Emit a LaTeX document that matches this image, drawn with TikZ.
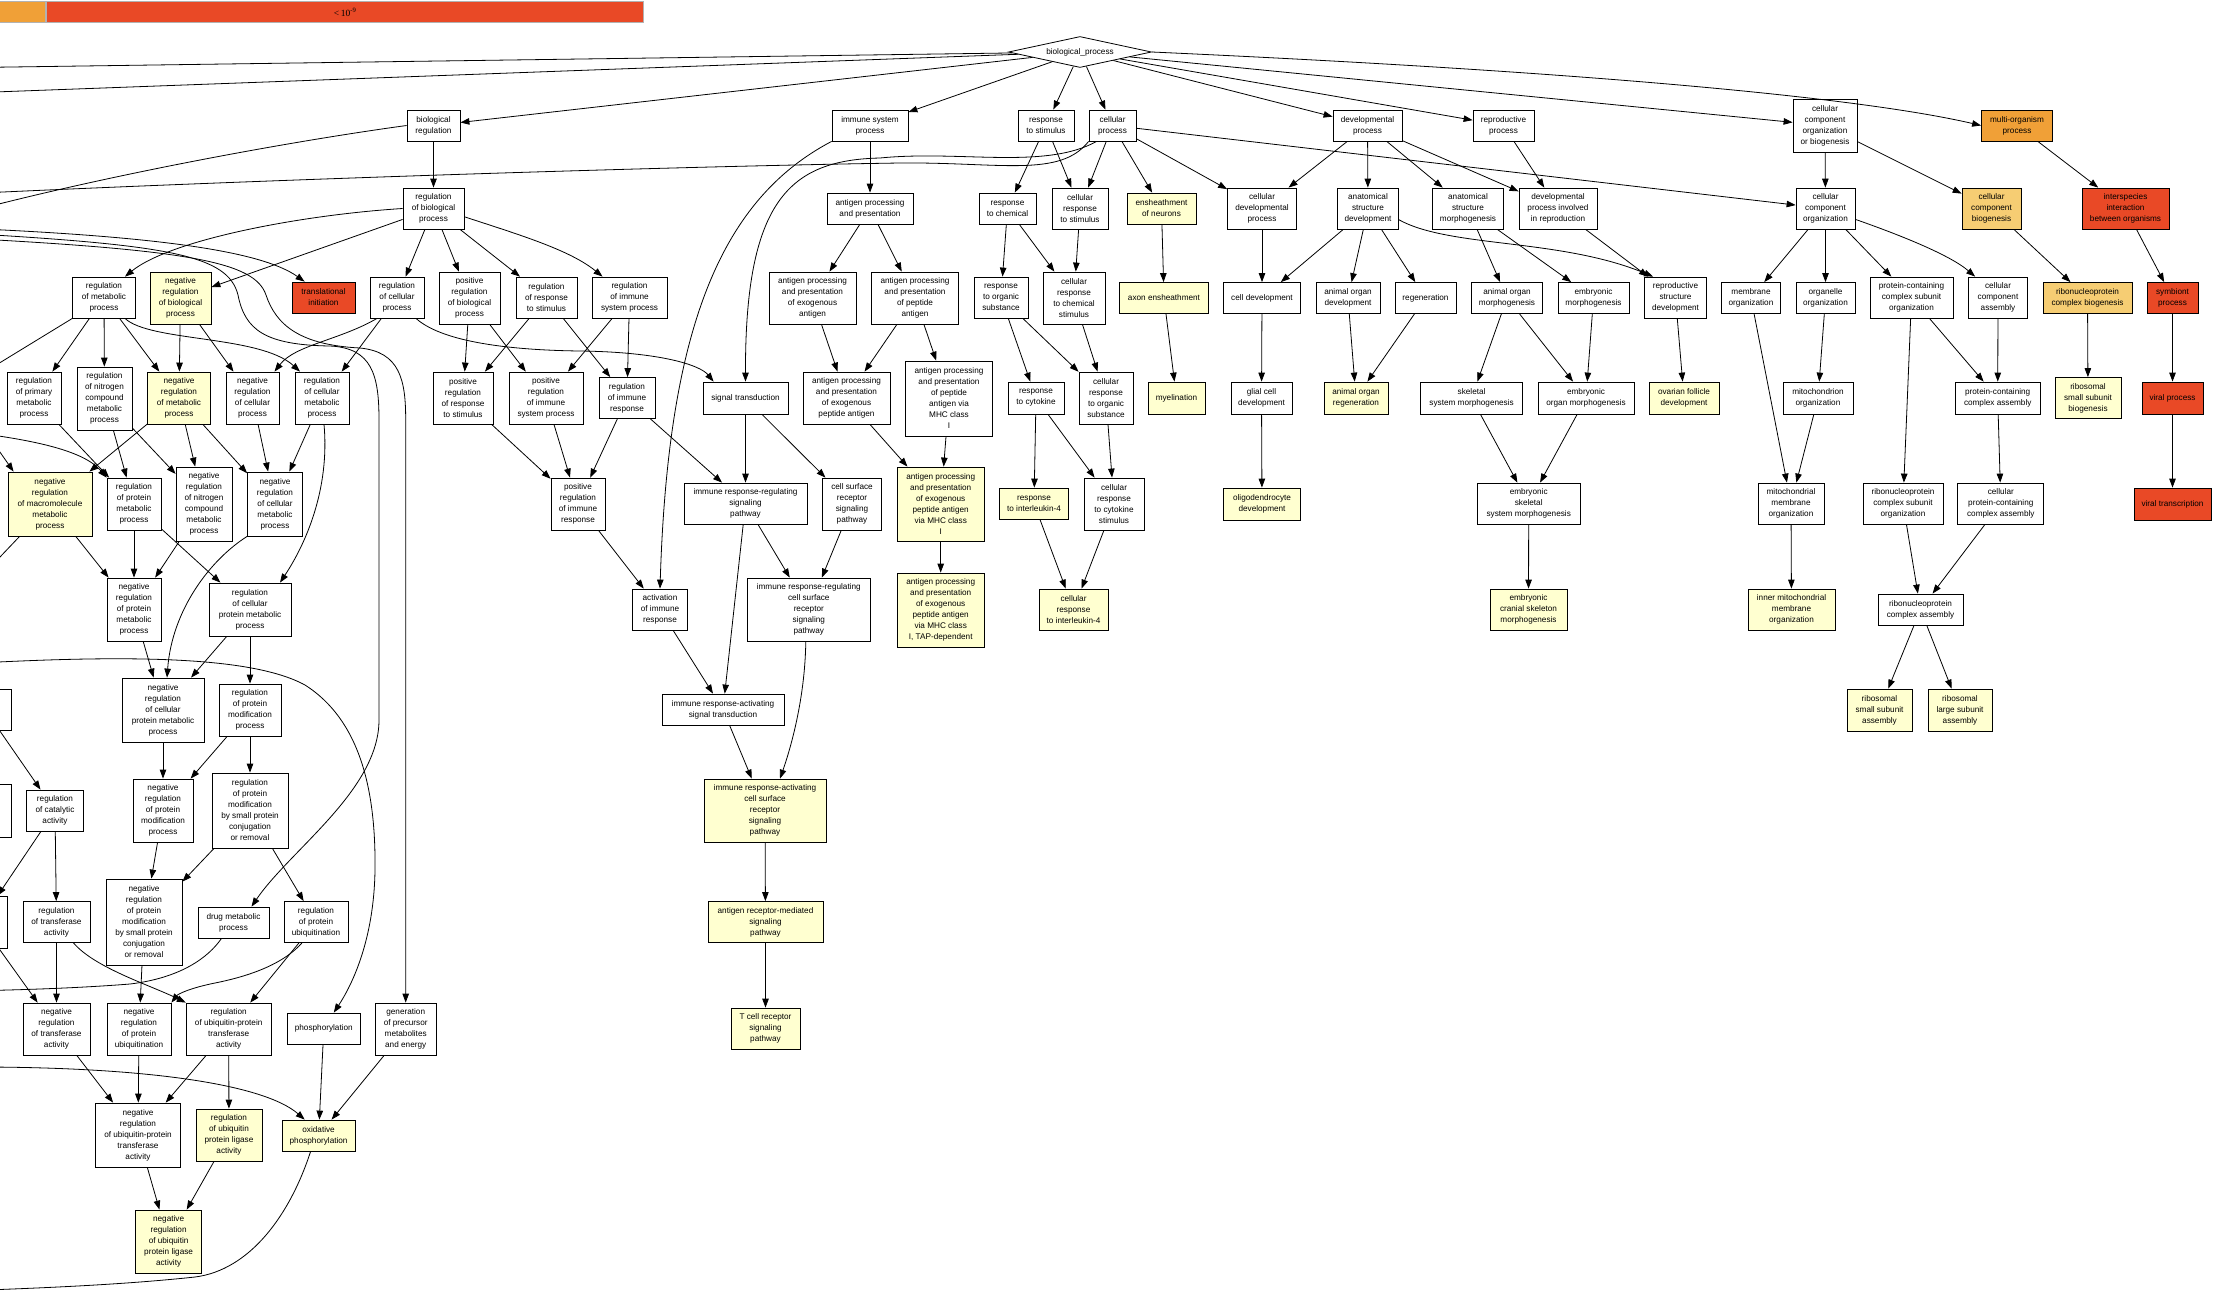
\documentclass[tikz,border=0pt]{standalone}
\usepackage{fontspec}
\setmainfont{Liberation Sans}
\newfontfamily\legserif{Liberation Serif}
\usetikzlibrary{arrows.meta,shapes.geometric,calc}
\definecolor{gored}{RGB}{233,73,38}
\definecolor{gorange}{RGB}{240,160,55}
\definecolor{glorange}{RGB}{246,205,115}
\definecolor{gyellow}{RGB}{255,255,208}
\begin{document}
\begin{tikzpicture}[x=1pt,y=-1pt,
  bx/.style={draw=black, line width=0.8pt, fill=white, inner sep=0pt, align=center, font=\fontsize{8.2}{11}\selectfont},
  wh/.style 2 args={minimum width=#1pt, minimum height=#2pt},
  fy/.style={fill=gyellow}, fr/.style={fill=gored}, fo/.style={fill=gorange}, fl/.style={fill=glorange},
  edg/.style={-{Triangle[length=9pt,width=6.5pt]}, line width=0.8pt},
  legbox/.style={draw=gray!60, line width=1.2pt, inner sep=0pt, anchor=north west}
]
\useasboundingbox (0,0) rectangle (2214,1302);
\clip (0,0) rectangle (2214,1302);
\fill[white] (0,0) rectangle (2214,1302);

% legend
\node[legbox, fill=gorange, minimum width=47pt, minimum height=21pt] (legA) at (-2,1) {};
\node[legbox, fill=gored, minimum width=597pt, minimum height=21pt, font=\legserif\fontsize{9.5}{10}\selectfont] (legB) at (46,1) {<\,10\textsuperscript{-9}};

% off-canvas ends
\coordinate (offA) at (-60,68);
\coordinate (offB) at (-60,94);
\coordinate (offC) at (-40,214);
\coordinate (offD) at (-40,194);
\coordinate (offE) at (-40,228);
\coordinate (offF) at (-40,233);
\coordinate (offG) at (-40,238);
\coordinate (offH) at (-40,664);
\coordinate (offI) at (-40,431);
\coordinate (offJ) at (-28,412);
\coordinate (offK) at (-20,578);
\coordinate (offL) at (-30,381);
\coordinate (offM) at (-40,991);
\coordinate (offN) at (-40,1067);
\coordinate (offO) at (-40,1291);

% root
\node[draw=black, line width=0.8pt, fill=white, diamond, shape aspect=4.6, minimum width=143pt, minimum height=31pt, inner sep=0pt, font=\fontsize{8.2}{11}\selectfont] (bp) at (1080,52) {biological\_process};

% row 1
\node[bx,wh={53}{31}] (bioreg) at (433.5,125.5) {biological\\regulation};
\node[bx,wh={76}{31}] (isp) at (870,125.5) {immune system\\process};
\node[bx,wh={56}{31}] (rts) at (1046,125.5) {response\\to stimulus};
\node[bx,wh={47}{31}] (cp) at (1112.5,125.5) {cellular\\process};
\node[bx,wh={69}{31}] (dp) at (1367.5,125.5) {developmental\\process};
\node[bx,wh={61}{31}] (rp) at (1503.5,125.5) {reproductive\\process};
\node[bx,wh={64}{53}] (ccob) at (1825,125.5) {cellular\\component\\organization\\or biogenesis};
\node[bx,fo,wh={71}{31}] (mop) at (2017,125.5) {multi-organism\\process};

% row 2
\node[bx,wh={61}{41}] (rbp) at (433.5,208.5) {regulation\\of biological\\process};
\node[bx,wh={86}{31}] (app) at (870,208.5) {antigen processing\\and presentation};
\node[bx,wh={57}{31}] (rchem) at (1007.5,208.5) {response\\to chemical};
\node[bx,wh={56}{41}] (crs) at (1080,208.5) {cellular\\response\\to stimulus};
\node[bx,fy,wh={69}{31}] (ens) at (1161.5,208.5) {ensheathment\\of neurons};
\node[bx,wh={69}{41}] (cdp) at (1262,208.5) {cellular\\developmental\\process};
\node[bx,wh={61}{41}] (asd) at (1368,208.5) {anatomical\\structure\\development};
\node[bx,wh={71}{41}] (asm) at (1468,208.5) {anatomical\\structure\\morphogenesis};
\node[bx,wh={78}{41}] (dpr) at (1558,208.5) {developmental\\process involved\\in reproduction};
\node[bx,wh={59}{41}] (cco) at (1825.5,208.5) {cellular\\component\\organization};
\node[bx,fl,wh={59}{41}] (ccb) at (1991.5,208.5) {cellular\\component\\biogenesis};
\node[bx,fr,wh={87}{41}] (iibo) at (2125.5,208.5) {interspecies\\interaction\\between organisms};

% row 3
\node[bx,wh={62.5}{41}] (rmp) at (104,297.5) {regulation\\of metabolic\\process};
\node[bx,fy,wh={61}{52}] (nrbp) at (180.5,298) {negative\\regulation\\of biological\\process};
\node[bx,fr,wh={63}{31}] (ti) at (323.5,297.5) {translational\\initiation};
\node[bx,wh={54}{41}] (rcp) at (397,297.5) {regulation\\of cellular\\process};
\node[bx,wh={61}{52}] (prbp) at (469.5,298) {positive\\regulation\\of biological\\process};
\node[bx,wh={61}{41}] (rrs) at (546.5,297.5) {regulation\\of response\\to stimulus};
\node[bx,wh={75}{41}] (risp) at (629.5,297.5) {regulation\\of immune\\system process};
\node[bx,wh={87}{52}] (appea) at (812.5,298) {antigen processing\\and presentation\\of exogenous\\antigen};
\node[bx,wh={87}{52}] (apppa) at (915,298) {antigen processing\\and presentation\\of peptide\\antigen};
\node[bx,wh={54}{41}] (ros) at (1001,297.5) {response\\to organic\\substance};
\node[bx,wh={62}{52}] (crcs) at (1074,298) {cellular\\response\\to chemical\\stimulus};
\node[bx,fy,wh={89}{31}] (ae) at (1164,298) {axon ensheathment};
\node[bx,wh={77}{31}] (cd) at (1262,298) {cell development};
\node[bx,wh={64}{31}] (aod) at (1348,298) {animal organ\\development};
\node[bx,wh={61}{31}] (regen) at (1425.5,298) {regeneration};
\node[bx,wh={71}{31}] (aom) at (1507,298) {animal organ\\morphogenesis};
\node[bx,wh={71}{31}] (em) at (1593.5,298) {embryonic\\morphogenesis};
\node[bx,wh={62}{41}] (rsd) at (1675.5,297.5) {reproductive\\structure\\development};
\node[bx,wh={59}{31}] (mo) at (1751,298) {membrane\\organization};
\node[bx,wh={59}{31}] (oo) at (1825.5,298) {organelle\\organization};
\node[bx,wh={83}{41}] (pccso) at (1911.5,297.5) {protein-containing\\complex subunit\\organization};
\node[bx,wh={59}{41}] (cca) at (1998,297.5) {cellular\\component\\assembly};
\node[bx,fl,wh={89}{31}] (rnpcb) at (2087.5,298) {ribonucleoprotein\\complex biogenesis};
\node[bx,fr,wh={51}{31}] (symp) at (2172.5,298) {symbiont\\process};

% row 4
\node[bx,wh={54}{52}] (rpmp) at (34,398) {regulation\\of primary\\metabolic\\process};
\node[bx,wh={55}{63}] (rncmp) at (104.5,398.5) {regulation\\of nitrogen\\compound\\metabolic\\process};
\node[bx,fy,wh={63}{52}] (nrmp) at (179,398) {negative\\regulation\\of metabolic\\process};
\node[bx,wh={53}{52}] (nrcp) at (252.5,398) {negative\\regulation\\of cellular\\process};
\node[bx,wh={54}{52}] (rcmp) at (322,398) {regulation\\of cellular\\metabolic\\process};
\node[bx,wh={60}{52}] (prrs) at (463,398) {positive\\regulation\\of response\\to stimulus};
\node[bx,wh={74}{52}] (prisp) at (546,398) {positive\\regulation\\of immune\\system process};
\node[bx,wh={56}{41}] (rir) at (627,398) {regulation\\of immune\\response};
\node[bx,wh={85}{32}] (st) at (745.5,398) {signal transduction};
\node[bx,wh={87}{52}] (appepa) at (846.5,398) {antigen processing\\and presentation\\of exogenous\\peptide antigen};
\node[bx,wh={87}{75}] (appmhc) at (949,398.5) {antigen processing\\and presentation\\of peptide\\antigen via\\MHC class\\I};
\node[bx,wh={56}{32}] (rcyt) at (1036,398) {response\\to cytokine};
\node[bx,wh={54}{52}] (cros) at (1106,398) {cellular\\response\\to organic\\substance};
\node[bx,fy,wh={57}{32}] (myel) at (1176.5,398) {myelination};
\node[bx,wh={61}{32}] (gcd) at (1261.5,398) {glial cell\\development};
\node[bx,fy,wh={64}{32}] (aor) at (1356,398) {animal organ\\regeneration};
\node[bx,wh={102}{32}] (ssm) at (1471.6,398) {skeletal\\system morphogenesis};
\node[bx,wh={96}{32}] (eom) at (1586,398) {embryonic\\organ morphogenesis};
\node[bx,fy,wh={70}{32}] (ofd) at (1684,398) {ovarian follicle\\development};
\node[bx,wh={70}{32}] (mito) at (1818,398) {mitochondrion\\organization};
\node[bx,wh={85}{32}] (pcca) at (1997.7,398) {protein-containing\\complex assembly};
\node[bx,fy,wh={66}{41}] (rssb) at (2088,398) {ribosomal\\small subunit\\biogenesis};
\node[bx,fr,wh={61}{32}] (vp) at (2172.5,398) {viral process};

% row 5
\node[bx,fy,wh={84}{64}] (nrmmp) at (50,504) {negative\\regulation\\of macromolecule\\metabolic\\process};
\node[bx,wh={54}{52}] (rprmp) at (134,504) {regulation\\of protein\\metabolic\\process};
\node[bx,wh={56}{74}] (nrncmp) at (204,504) {negative\\regulation\\of nitrogen\\compound\\metabolic\\process};
\node[bx,wh={55}{64}] (nrcmp) at (275,504) {negative\\regulation\\of cellular\\metabolic\\process};
\node[bx,wh={54}{52}] (prir) at (578,504) {positive\\regulation\\of immune\\response};
\node[bx,wh={123}{41}] (irrsp) at (745.5,503.5) {immune response-regulating\\signaling\\pathway};
\node[bx,wh={59}{52}] (csrsp) at (852,504) {cell surface\\receptor\\signaling\\pathway};
\node[bx,fy,wh={87}{74}] (appmhc1) at (940.7,504) {antigen processing\\and presentation\\of exogenous\\peptide antigen\\via MHC class\\I};
\node[bx,fy,wh={69}{31}] (ril4) at (1034,503.5) {response\\to interleukin-4};
\node[bx,wh={60}{52}] (crcyt) at (1114,504) {cellular\\response\\to cytokine\\stimulus};
\node[bx,fy,wh={77}{32}] (odd) at (1262,504) {oligodendrocyte\\development};
\node[bx,wh={103}{41}] (essm) at (1528.7,503.5) {embryonic\\skeletal\\system morphogenesis};
\node[bx,wh={66}{41}] (mmo) at (1791,503.5) {mitochondrial\\membrane\\organization};
\node[bx,wh={80}{41}] (rnpcso) at (1903,503.5) {ribonucleoprotein\\complex subunit\\organization};
\node[bx,wh={86}{41}] (cpcca) at (2000.8,503.5) {cellular\\protein-containing\\complex assembly};
\node[bx,fr,wh={77}{32}] (vt) at (2172.5,504) {viral transcription};

% row 6
\node[bx,wh={54}{63}] (nrpmp) at (134,609.5) {negative\\regulation\\of protein\\metabolic\\process};
\node[bx,wh={82}{53}] (rcpmp) at (250,609.5) {regulation\\of cellular\\protein metabolic\\process};
\node[bx,wh={55}{41}] (air) at (660,609.5) {activation\\of immune\\response};
\node[bx,wh={123}{63}] (irrcs) at (808.8,609.5) {immune response-regulating\\cell surface\\receptor\\signaling\\pathway};
\node[bx,fy,wh={87}{74}] (apptap) at (940.7,610) {antigen processing\\and presentation\\of exogenous\\peptide antigen\\via MHC class\\I, TAP-dependent};
\node[bx,fy,wh={69}{41}] (cril4) at (1073.5,609.5) {cellular\\response\\to interleukin-4};
\node[bx,fy,wh={77}{41}] (ecsm) at (1528.5,609.5) {embryonic\\cranial skeleton\\morphogenesis};
\node[bx,fy,wh={87}{41}] (immo) at (1791.5,609.5) {inner mitochondrial\\membrane\\organization};
\node[bx,wh={85}{31}] (rnpca) at (1920.5,609.5) {ribonucleoprotein\\complex assembly};

% row 7
\node[bx,wh={52}{41}] (cutA) at (-15,709.5) {};
\node[bx,wh={82}{64}] (nrcpmp) at (163,710) {negative\\regulation\\of cellular\\protein metabolic\\process};
\node[bx,wh={62}{52}] (rpmodp) at (250,710) {regulation\\of protein\\modification\\process};
\node[bx,wh={122}{31}] (irast) at (723,709.5) {immune response-activating\\signal transduction};
\node[bx,fy,wh={65}{42}] (rssa) at (1879.5,710) {ribosomal\\small subunit\\assembly};
\node[bx,fy,wh={64}{42}] (rlsa) at (1960,710) {ribosomal\\large subunit\\assembly};

% row 8
\node[bx,wh={52}{53}] (cutB) at (-15,810.5) {};
\node[bx,wh={57}{41}] (rca) at (55,810.5) {regulation\\of catalytic\\activity};
\node[bx,wh={60}{63}] (nrpmodp) at (163,810.5) {negative\\regulation\\of protein\\modification\\process};
\node[bx,wh={76}{75}] (rpmsp) at (250,810.5) {regulation\\of protein\\modification\\by small protein\\conjugation\\or removal};
\node[bx,fy,wh={122}{63}] (iracs) at (765,810.5) {immune response-activating\\cell surface\\receptor\\signaling\\pathway};

% row 9
\node[bx,wh={54}{52}] (cutC) at (-20,922) {};
\node[bx,wh={67}{41}] (rta) at (56.5,922) {regulation\\of transferase\\activity};
\node[bx,wh={76}{86}] (nrpmsp) at (144,922) {negative\\regulation\\of protein\\modification\\by small protein\\conjugation\\or removal};
\node[bx,wh={71}{31}] (dmp) at (233.5,922.5) {drug metabolic\\process};
\node[bx,wh={64}{41}] (rpu) at (316,922) {regulation\\of protein\\ubiquitination};
\node[bx,fy,wh={115}{41}] (armsp) at (765.5,922) {antigen receptor-mediated\\signaling\\pathway};

% row 10
\node[bx,wh={67}{52}] (nrta) at (56.5,1029) {negative\\regulation\\of transferase\\activity};
\node[bx,wh={64}{52}] (nrpu) at (139,1029) {negative\\regulation\\of protein\\ubiquitination};
\node[bx,wh={85}{52}] (rupta) at (228.7,1029) {regulation\\of ubiquitin-protein\\transferase\\activity};
\node[bx,wh={73}{31}] (phos) at (323.8,1028.5) {phosphorylation};
\node[bx,wh={61}{52}] (gpme) at (405.7,1029) {generation\\of precursor\\metabolites\\and energy};
\node[bx,fy,wh={69}{41}] (tcr) at (765.5,1028.5) {T cell receptor\\signaling\\pathway};

% row 11
\node[bx,wh={85}{64}] (nrupta) at (138,1135) {negative\\regulation\\of ubiquitin-protein\\transferase\\activity};
\node[bx,fy,wh={66}{52}] (rupla) at (229,1135) {regulation\\of ubiquitin\\protein ligase\\activity};
\node[bx,fy,wh={73}{31}] (oxp) at (318.6,1135.5) {oxidative\\phosphorylation};

% row 12
\node[bx,fy,wh={66}{63}] (nrupla) at (168.6,1241.5) {negative\\regulation\\of ubiquitin\\protein ligase\\activity};

% ---------- edges ----------
\draw[edg] (bp) -- (bioreg);
\draw[edg] (bp) -- (isp);
\draw[edg] (bp) -- (rts);
\draw[edg] (bp) -- (cp);
\draw[edg] (bp) -- (dp);
\draw[edg] (bp) -- (rp);
\draw[edg] (bp) -- (ccob);
\draw[edg] (bp.east) .. controls (1550,70) and (1850,95) .. (mop.west);
\draw[edg] (bp) -- (offA);
\draw[edg] (bp) -- (offB);

\draw[edg] (bioreg) -- (rbp);
\draw[edg] (bioreg.west) .. controls (300,140) and (120,172) .. (offC);

\draw[edg] (cp.south west) .. controls (1060,178) and (1000,162) .. (900,163) .. controls (700,166) and (300,178) .. (offD);
\draw[edg] (cp.225) .. controls (1045,170) and (960,150) .. (880,158) .. controls (790,160) and (745,200) .. (st.north);
\draw[edg] (cp) -- (crs);
\draw[edg] (cp) -- (ens);
\draw[edg] (cp) -- (cdp);
\draw[edg] (cp) -- (cco);
\draw[edg] (rts) -- (rchem);
\draw[edg] (rts) -- (crs);
\draw[edg] (isp) -- (app);
\draw[edg] (isp.south west) .. controls (720,200) and (668,330) .. (air.north);
\draw[edg] (dp) -- (cdp);
\draw[edg] (dp) -- (asd);
\draw[edg] (dp) -- (asm);
\draw[edg] (dp) -- (dpr);
\draw[edg] (rp) -- (dpr);
\draw[edg] (ccob) -- (cco);
\draw[edg] (ccob) -- (ccb);
\draw[edg] (mop) -- (iibo);

\draw[edg] (rbp.west) .. controls (300,215) and (170,240) .. ($(rmp.north)+(21,0)$);
\draw[edg] (rbp) -- (nrbp);
\draw[edg] (rbp) -- (rcp);
\draw[edg] (rbp) -- (prbp);
\draw[edg] (rbp) -- (rrs);
\draw[edg] (rbp.-15) .. controls (520,235) and (570,250) .. ($(risp.north)+(-27,0)$);
\draw[edg] (app) -- (appea);
\draw[edg] (app) -- (apppa);
\draw[edg] (rchem) -- (ros);
\draw[edg] (rchem) -- (crcs);
\draw[edg] (crs) -- (crcs);
\draw[edg] (ens) -- (ae);
\draw[edg] (cdp) -- (cd);
\draw[edg] (asd) -- (cd);
\draw[edg] (asd) -- (aod);
\draw[edg] (asd) -- (regen);
\draw[edg] (asd.-20) .. controls (1450,248) and (1560,238) .. ($(rsd.north west)+(9,0)$);
\draw[edg] (asm) -- (aom);
\draw[edg] (asm) -- (em);
\draw[edg] (dpr) -- (rsd);
\draw[edg] (cco) -- (mo);
\draw[edg] (cco) -- (oo);
\draw[edg] (cco) -- (pccso);
\draw[edg] (cco.-20) .. controls (1900,235) and (1950,255) .. ($(cca.north west)+(7,0)$);
\draw[edg] (ccb) -- (rnpcb);
\draw[edg] (iibo) -- (symp);

\draw[edg] (offE) .. controls (150,236) and (260,250) .. ($(ti.north west)+(13,0)$);
\draw[edg] (offF) .. controls (170,245) and (228,255) .. (238,295) .. controls (245,330) and (265,345) .. (330,346) .. controls (372,348) and (379,375) .. (379,420) -- (379,720) .. controls (379,790) and (290,850) .. ($(dmp.north)+(18,0)$);
\draw[edg] (offG) .. controls (190,250) and (255,262) .. (266,295) .. controls (276,325) and (300,345) .. (360,348) .. controls (400,352) and (405.7,380) .. (405.7,420) -- (gpme.north);
\draw[edg] (offH) .. controls (120,655) and (250,655) .. (305,685) .. controls (360,720) and (376,790) .. (375,870) .. controls (374,940) and (352,985) .. ($(phos.north)+(10,0)$);

\draw[edg] (rmp) -- (rpmp);
\draw[edg] (rmp) -- (rncmp);
\draw[edg] (rmp) -- (nrmp);
\draw[edg] ($(rmp.south)+(21,0)$) .. controls (150,342) and (260,335) .. ($(rcmp.north)+(-22,0)$);
\draw[edg] (rmp.south west) -- (offL);
\draw[edg] (nrbp) -- (nrmp);
\draw[edg] (nrbp) -- (nrcp);
\draw[edg] ($(rcp.south)+(-20,0)$) .. controls (340,340) and (295,345) .. ($(nrcp.north)+(22,0)$);
\draw[edg] (rcp) -- (rcmp);
\draw[edg] ($(rcp.south)+(19,0)$) .. controls (440,340) and (500,350) .. (580,351) .. controls (660,352) and (700,365) .. ($(st.north west)+(11,0)$);
\draw[edg] (prbp) -- (prrs);
\draw[edg] (prbp) -- (prisp);
\draw[edg] (rrs) -- (prrs);
\draw[edg] (rrs) -- (rir);
\draw[edg] (risp) -- (prisp);
\draw[edg] (risp) -- (rir);
\draw[edg] (appea) -- (appepa);
\draw[edg] (apppa) -- (appepa);
\draw[edg] (apppa) -- (appmhc);
\draw[edg] (ros) -- (rcyt);
\draw[edg] (ros) -- (cros);
\draw[edg] (crcs) -- (cros);
\draw[edg] (ae) -- (myel);
\draw[edg] (cd) -- (gcd);
\draw[edg] (aod) -- (aor);
\draw[edg] (regen) -- (aor);
\draw[edg] (aom) -- (ssm);
\draw[edg] (aom) -- (eom);
\draw[edg] (em) -- (eom);
\draw[edg] (rsd) -- (ofd);
\draw[edg] (mo) -- (mmo);
\draw[edg] (oo) -- (mito);
\draw[edg] (pccso) -- (rnpcso);
\draw[edg] (pccso) -- (pcca);
\draw[edg] (cca) -- (pcca);
\draw[edg] (rnpcb) -- (rssb);
\draw[edg] (symp) -- (vp);

\draw[edg] (rpmp) -- (rprmp);
\draw[edg] (rncmp) -- (rprmp);
\draw[edg] (rncmp) -- (nrncmp);
\draw[edg] (nrmp) -- (nrncmp);
\draw[edg] (nrmp) -- (nrcmp);
\draw[edg] (nrmp) -- (nrmmp);
\draw[edg] (nrcp) -- (nrcmp);
\draw[edg] (rcmp) -- (nrcmp);
\draw[edg] ($(rcmp.south)+(2,0)$) .. controls (330,490) and (305,545) .. ($(rcpmp.north)+(30,0)$);
\draw[edg] (offI) .. controls (40,440) and (85,452) .. (rprmp.north west);
\draw[edg] (offJ) -- ($(nrmmp.north west)+(6,0)$);
\draw[edg] (prrs) -- (prir);
\draw[edg] (prisp) -- (prir);
\draw[edg] (rir) -- (prir);
\draw[edg] (rir) -- (irrsp);
\draw[edg] (st) -- (irrsp);
\draw[edg] (st) -- (csrsp);
\draw[edg] (appepa) -- (appmhc1);
\draw[edg] (appmhc) -- (appmhc1);
\draw[edg] (rcyt) -- (ril4);
\draw[edg] (rcyt) -- (crcyt);
\draw[edg] (cros) -- (crcyt);
\draw[edg] (gcd) -- (odd);
\draw[edg] (ssm) -- (essm);
\draw[edg] (eom) -- (essm);
\draw[edg] (mito) -- (mmo);
\draw[edg] (pcca) -- (cpcca);
\draw[edg] (vp) -- (vt);

\draw[edg] (nrmmp) -- (nrpmp);
\draw[edg] (rprmp) -- (nrpmp);
\draw[edg] (nrncmp) -- (nrpmp);
\draw[edg] (rprmp) -- (rcpmp);
\draw[edg] (nrcmp.south west) .. controls (210,560) and (172,610) .. ($(nrcpmp.north)+(4,0)$);
\draw[edg] ($(nrmmp.south west)+(12,0)$) -- (offK);
\draw[edg] (prir) -- (air);
\draw[edg] (irrsp) -- (irrcs);
\draw[edg] (csrsp) -- (irrcs);
\draw[edg] (irrsp) -- (irast);
\draw[edg] (air) -- (irast);
\draw[edg] (appmhc1) -- (apptap);
\draw[edg] (ril4) -- (cril4);
\draw[edg] (crcyt) -- (cril4);
\draw[edg] (essm) -- (ecsm);
\draw[edg] (mmo) -- (immo);
\draw[edg] (rnpcso) -- (rnpca);
\draw[edg] (cpcca) -- (rnpca);

\draw[edg] (nrpmp) -- (nrcpmp);
\draw[edg] (rcpmp) -- (nrcpmp);
\draw[edg] (rcpmp) -- (rpmodp);
\draw[edg] (rnpca) -- (rssa);
\draw[edg] (rnpca) -- (rlsa);

\draw[edg] (irast) -- (iracs);
\draw[edg] ($(irrcs.south)+(-3,0)$) .. controls (805,700) and (790,750) .. ($(iracs.north)+(15,0)$);
\draw[edg] (nrcpmp) -- (nrpmodp);
\draw[edg] (rpmodp) -- (nrpmodp);
\draw[edg] (rpmodp) -- (rpmsp);
\draw[edg] (cutA) -- (rca);

\draw[edg] (nrpmodp) -- (nrpmsp);
\draw[edg] (rpmsp) -- (nrpmsp);
\draw[edg] (rpmsp) -- (rpu);
\draw[edg] (iracs) -- (armsp);
\draw[edg] (rca) -- (rta);
\draw[edg] (rca) -- (cutC);

\draw[edg] (rta) -- (nrta);
\draw[edg] (cutC) -- (nrta);
\draw[edg] ($(rta.south)+(17,0)$) .. controls (95,968) and (150,985) .. (rupta.north west);
\draw[edg] (nrpmsp) -- (nrpu);
\draw[edg] ($(rpu.south)+(-14,0)$) .. controls (285,962) and (255,975) .. (215,983) .. controls (190,988) and (178,994) .. (nrpu.north east);
\draw[edg] (rpu) -- (rupta);
\draw[edg] ($(dmp.south)+(-12,0)$) .. controls (208,958) and (180,978) .. (130,984) .. controls (80,988) and (20,990) .. (offM);
\draw[edg] (armsp) -- (tcr);

\draw[edg] (nrta) -- (nrupta);
\draw[edg] (nrpu) -- (nrupta);
\draw[edg] (rupta) -- (nrupta);
\draw[edg] (rupta) -- (rupla);
\draw[edg] (phos) -- (oxp);
\draw[edg] (gpme) -- (oxp);
\draw[edg] (offN) .. controls (150,1066) and (265,1085) .. ($(oxp.north west)+(23,0)$);

\draw[edg] (nrupta) -- (nrupla);
\draw[edg] (rupla) -- (nrupla);
\draw[edg] ($(oxp.south)+(-8,0)$) .. controls (290,1215) and (250,1270) .. (195,1277) .. controls (120,1285) and (40,1288) .. (offO);
\end{tikzpicture}
\end{document}
